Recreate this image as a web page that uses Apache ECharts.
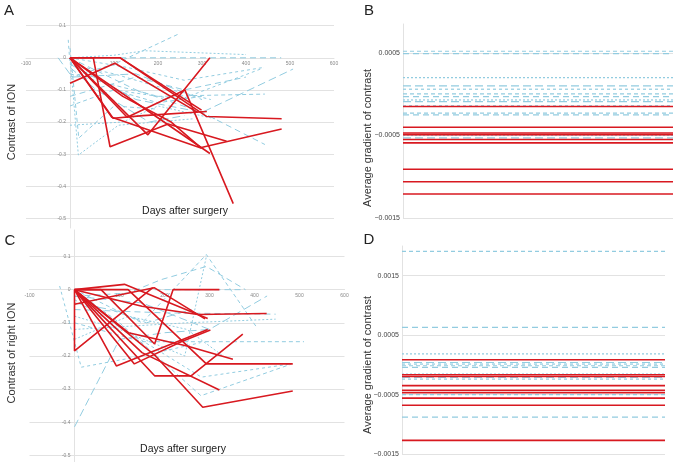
<!DOCTYPE html>
<html>
<head>
<meta charset="utf-8">
<script src="https://cdn.jsdelivr.net/npm/echarts@6/dist/echarts.min.js"></script>
<style>
  html, body { margin: 0; background: #fff; }
  #chart { width: 677px; height: 462px; }
</style>
</head>
<body>
<div id="chart"></div>
<script>
// panel A: contrast of ION, one path per patient [days, contrast]
const aRed = [
  [[0, 0], [114, 0], [311, -0.183], [481, -0.19]],
  [[0, 0], [114, 0], [299, -0.163]],
  [[0, -0.079], [102, -0.017], [290, -0.17]],
  [[0, 0], [53, 0], [91, -0.277], [223, -0.206], [356, -0.26]],
  [[0, 0], [95, -0.185], [296, -0.28], [481, -0.222]],
  [[0, 0], [130, -0.185], [261, -0.1], [371, -0.454]],
  [[0, 0], [177, -0.24], [318, 0]],
  [[0, 0], [150, -0.14], [318, -0.298]],
  [[0, 0], [98, -0.188], [166, -0.18], [311, -0.167]],
  [[0, 0], [120, -0.12], [230, -0.2], [299, -0.282]]
];
const aBlue = [
  [[0, -0.06], [100, -0.02], [245, 0.073]],
  [[0, 0], [200, 0], [480, 0]],
  [[0, 0], [100, 0.008], [170, 0.022], [400, 0.01]],
  [[0, -0.02], [150, -0.13], [300, -0.17], [507, -0.035]],
  [[0, 0], [100, -0.1], [250, -0.13], [439, -0.032]],
  [[0, -0.05], [200, -0.12], [443, -0.113]],
  [[0, 0], [150, -0.1], [300, -0.17], [443, -0.27]],
  [[0, 0], [19, -0.303], [110, -0.21], [280, -0.19]],
  [[-27, 0], [5, -0.06], [150, -0.05], [300, -0.13]],
  [[-4, 0.056], [0, -0.02], [100, -0.05], [200, -0.09], [320, -0.13]],
  [[0, -0.15], [100, -0.1], [200, -0.14], [300, -0.12]],
  [[0, -0.12], [150, -0.06], [260, -0.1], [400, -0.06]],
  [[0, -0.21], [120, -0.2], [200, -0.15], [330, -0.19]],
  [[0, -0.03], [60, -0.1], [180, -0.2], [260, -0.18]],
  [[0, 0], [130, -0.03], [260, -0.07], [440, -0.03]],
  [[0, 0.03], [20, -0.25], [100, -0.15], [200, -0.16]]
];

// panel C: contrast of right ION
const cRed = [
  [[0, 0], [59, 0], [178, -0.164], [219, 0], [322, 0]],
  [[0, 0], [111, 0.016], [296, -0.087]],
  [[0, -0.044], [177, 0.006], [290, -0.088]],
  [[0, 0], [0, -0.185], [174, 0.006]],
  [[0, 0], [93, -0.23], [296, -0.12]],
  [[0, 0], [180, -0.2], [285, -0.355], [485, -0.306]],
  [[0, 0], [178, -0.26], [259, -0.26], [374, -0.134]],
  [[0, 0], [119, 0], [293, -0.224], [485, -0.224]],
  [[0, 0], [150, -0.05], [274, -0.075], [427, -0.072]],
  [[0, 0], [150, -0.19], [322, -0.303]],
  [[0, 0], [120, -0.13], [250, -0.17], [352, -0.21]],
  [[0, 0], [133, -0.224], [237, -0.157], [302, -0.122]]
];
const cBlue = [
  [[0, 0], [150, -0.1], [293, 0.106], [403, -0.11]],
  [[0, -0.02], [120, -0.01], [192, 0.03], [293, 0.07], [380, 0]],
  [[0, -0.08], [100, -0.12], [245, -0.2], [293, 0.1]],
  [[0, -0.414], [100, -0.15], [200, -0.13], [300, -0.12]],
  [[-33, 0.011], [15, -0.234], [150, -0.2], [280, -0.16]],
  [[0, -0.1], [150, -0.157], [510, -0.157]],
  [[0, -0.06], [200, -0.07], [447, -0.074]],
  [[0, -0.12], [250, -0.1], [447, -0.089]],
  [[0, -0.02], [150, -0.04], [300, -0.12], [428, -0.019]],
  [[0, -0.03], [170, -0.17], [282, -0.264], [481, -0.224]],
  [[0, 0], [100, -0.1], [281, -0.32], [481, -0.225]],
  [[0, 0], [200, 0], [370, 0]],
  [[0, -0.15], [120, -0.08], [250, -0.12], [330, -0.2]],
  [[0, -0.04], [80, -0.06], [160, -0.1], [260, -0.06]]
];

// panels B and D: average gradient of contrast per patient
const bRed = [-0.00015, -0.0004, -0.00047, -0.00049, -0.00055, -0.00059, -0.00091, -0.00106, -0.00121];
const bBlue = [0.00052, 0.00049, 0.0002, 0.0001, 0.00006, 0.000003, -0.00003, -0.00007, -0.00009,
  -0.00014, -0.00023, -0.00025, -0.0005, -0.00053];
const dRed = [0.000085, -0.000167, -0.000195, -0.00035, -0.00043, -0.00047, -0.00056, -0.00068, -0.00127];
const dBlue = [0.00191, 0.00063, 0.000186, 0.00004, 0.000013, -0.000015, -0.000044, -0.000155,
  -0.00021, -0.00024, -0.0005, -0.00088];

const gradTicks = [-0.0015, -0.0005, 0.0005, 0.0015];
const levelCats = ['start', 'end'];
const dayRange = [-100, 600];

const RED = '#d81920';
const BLUE = '#92cce0';
const GRIDC = '#e2e2e2';
const FONT = '"Liberation Sans", Arial, sans-serif';
const dashes = [[4, 3], [6, 4], [2, 2], [8, 4], [3, 3]];

const grids = [
  { left: 26, top: 0, width: 308, height: 228 },
  { left: 403, top: 24, width: 270, height: 194 },
  { left: 29.5, top: 230, width: 315, height: 232 },
  { left: 402, top: 246, width: 263, height: 208 }
];
const contrastRange = { 0: [-0.53, 0.18], 2: [-0.52, 0.18] };

const pathSeries = (paths, color, dashed, idx) => paths.map((p, i) => ({
  type: 'line',
  xAxisIndex: idx,
  yAxisIndex: idx,
  data: p,
  symbol: 'none',
  silent: true,
  z: dashed ? 2 : 3,
  lineStyle: { color, width: dashed ? 1 : 1.6, type: dashed ? dashes[i % dashes.length] : 'solid' }
}));
const levelSeries = (vals, color, dashed, idx) => vals.map((v, i) => ({
  type: 'line',
  xAxisIndex: idx,
  yAxisIndex: idx,
  data: [v, v],
  symbol: 'none',
  silent: true,
  z: dashed ? 2 : 3,
  lineStyle: { color, width: dashed ? 1.2 : 1.6, type: dashed ? dashes[i % dashes.length] : 'solid' }
}));

// the days axis crosses at contrast 0, the contrast axis at day 0
const daysAxis = (gi) => {
  const [mn, mx] = contrastRange[gi];
  const up = grids[gi].height * (0 - mn) / (mx - mn);
  return {
    type: 'value',
    gridIndex: gi,
    min: dayRange[0],
    max: dayRange[1],
    interval: 100,
    position: 'bottom',
    offset: -up,
    axisLine: { onZero: false, lineStyle: { color: GRIDC } },
    axisTick: { show: false },
    axisLabel: { fontSize: 5, color: '#888', margin: 3, formatter: v => (v === 0 ? '' : String(v)) },
    splitLine: { show: false }
  };
};
const contrastAxis = (gi) => {
  const [mn, mx] = contrastRange[gi];
  const right = grids[gi].width * (0 - dayRange[0]) / (dayRange[1] - dayRange[0]);
  return {
    type: 'value',
    gridIndex: gi,
    min: mn,
    max: mx,
    splitNumber: 7,
    position: 'left',
    offset: -right,
    axisLine: { show: true, onZero: false, lineStyle: { color: GRIDC } },
    axisTick: { show: false },
    axisLabel: {
      fontSize: 5, color: '#888', margin: 4, showMinLabel: false, showMaxLabel: false,
      formatter: v => String(Number(v.toFixed(1)))
    },
    splitLine: { show: true, showMinLine: false, showMaxLine: false, lineStyle: { color: GRIDC } }
  };
};
const levelX = (gi) => ({ type: 'category', gridIndex: gi, data: levelCats, boundaryGap: false, show: false });
const gradAxis = (gi, mx) => ({
  type: 'value',
  gridIndex: gi,
  min: -0.0015,
  max: mx,
  interval: 0.0005,
  axisLine: { show: true, onZero: false, lineStyle: { color: GRIDC } },
  axisTick: { show: false },
  axisLabel: {
    fontSize: 7, color: '#444', margin: 3, showMaxLabel: false,
    formatter: v => (gradTicks.some(t => Math.abs(t - v) < 1e-9) ? String(v).replace('-', '\u2212') : '')
  },
  splitLine: { show: true, showMaxLine: false, lineStyle: { color: [GRIDC, 'rgba(0,0,0,0)'] } }
});

const vText = (x, y, text) => ({
  type: 'text', x, y, rotation: Math.PI / 2,
  style: { text, font: '11px ' + FONT, fill: '#333', align: 'center', verticalAlign: 'middle' }
});
const hText = (x, y, text, size) => ({
  type: 'text', x, y,
  style: { text, font: size + 'px ' + FONT, fill: '#222', align: 'center', verticalAlign: 'middle' }
});

const option = {
  animation: false,
  textStyle: { fontFamily: FONT },
  grid: grids,
  xAxis: [daysAxis(0), levelX(1), daysAxis(2), levelX(3)],
  yAxis: [contrastAxis(0), gradAxis(1, 0.00085), contrastAxis(2), gradAxis(3, 0.002)],
  graphic: [
    hText(9, 11, 'A', 15),
    hText(369, 11, 'B', 15),
    hText(10, 241, 'C', 15),
    hText(369, 240, 'D', 15),
    hText(185, 211, 'Days after surgery', 10.5),
    hText(183, 449, 'Days after surgery', 10.5),
    vText(12, 122, 'Contrast of ION'),
    vText(12, 353, 'Contrast of right ION'),
    vText(368, 138, 'Average gradient of contrast'),
    vText(368, 365, 'Average gradient of contrast')
  ],
  series: [
    ...pathSeries(aBlue, BLUE, true, 0),
    ...pathSeries(aRed, RED, false, 0),
    ...levelSeries(bBlue, BLUE, true, 1),
    ...levelSeries(bRed, RED, false, 1),
    ...pathSeries(cBlue, BLUE, true, 2),
    ...pathSeries(cRed, RED, false, 2),
    ...levelSeries(dBlue, BLUE, true, 3),
    ...levelSeries(dRed, RED, false, 3)
  ]
};

const chart = echarts.init(document.getElementById('chart'));
chart.setOption(option);
</script>
</body>
</html>
